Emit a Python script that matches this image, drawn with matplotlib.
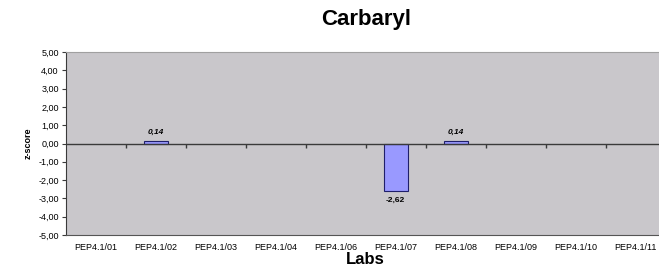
import matplotlib
matplotlib.use("Agg")
import matplotlib.pyplot as plt
import numpy as np
from matplotlib.ticker import FuncFormatter, FixedLocator
from matplotlib.lines import TICKDOWN

plt.rcParams["font.family"] = ["Liberation Sans", "DejaVu Sans"]

labs = ["PEP4.1/01", "PEP4.1/02", "PEP4.1/03", "PEP4.1/04", "PEP4.1/06",
        "PEP4.1/07", "PEP4.1/08", "PEP4.1/09", "PEP4.1/10", "PEP4.1/11"]
zscores = [np.nan, 0.14, np.nan, np.nan, np.nan, -2.62, 0.14, np.nan, np.nan, np.nan]
yticks = [-5, -4, -3, -2, -1, 0, 1, 2, 3, 4, 5]

fig = plt.figure(figsize=(6.59, 2.74), dpi=100)
ax = fig.add_axes([65.7 / 659, 1 - 235 / 274, 600 / 659, 183 / 274])
ax.set_facecolor("#c9c7cb")

x = np.arange(len(labs))
ax.bar(x, zscores, width=0.4, color="#9999ff", edgecolor="#1f1f6b", linewidth=0.8, zorder=3)

# zero line with category-boundary ticks
bounds = np.arange(len(labs) + 1) - 0.5
ax.axhline(0, color="#3a3a3a", linewidth=1.0, zorder=4)
ax.plot(bounds[1:-1], np.zeros(len(bounds) - 2), linestyle="none", marker=TICKDOWN,
        markersize=3, color="#3a3a3a", markeredgewidth=1.0, zorder=4)

for xi, v in zip(x, zscores):
    if np.isnan(v):
        continue
    s = f"{v:.2f}".replace(".", ",")
    if v >= 0:
        ax.annotate(s, (xi, v), xytext=(0, 4), textcoords="offset points",
                    ha="center", va="bottom", fontsize=6, fontweight="bold",
                    fontstyle="italic", zorder=5)
    else:
        ax.annotate(s, (xi, v), xytext=(0, -4), textcoords="offset points",
                    ha="center", va="top", fontsize=6, fontweight="bold", zorder=5)

ax.set_xlim(-0.5, len(labs) - 0.5)
ax.set_ylim(-5, 5)
ax.set_xticks(x)
ax.set_xticklabels(labs, fontsize=6.5)
ax.tick_params(axis="x", length=0, pad=6)
ax.yaxis.set_major_locator(FixedLocator(yticks))
ax.yaxis.set_major_formatter(FuncFormatter(lambda v, p: f"{v:.2f}".replace(".", ",")))
ax.tick_params(axis="y", labelsize=6.5, length=3, width=0.8, color="#3a3a3a", pad=2)

ax.spines["top"].set_color("#a0a0a0")
ax.spines["right"].set_visible(False)
ax.spines["left"].set_color("#3a3a3a")
ax.spines["bottom"].set_color("#555555")

ax.set_ylabel("z-score", fontsize=6.5, fontweight="bold", labelpad=4)
fig.text((65.7 + 300) / 659, 1 - 259 / 274, "Labs", ha="center", va="center",
         fontsize=12, fontweight="bold")
fig.text((65.7 + 300) / 659, 1 - 20 / 274, "Carbaryl", ha="center", va="center",
         fontsize=16, fontweight="bold")

fig.savefig("out.png", dpi=100)
